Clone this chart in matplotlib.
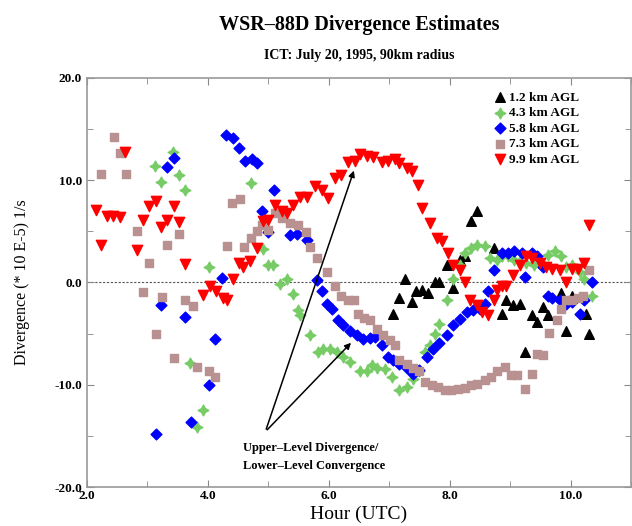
import numpy as np
import matplotlib
matplotlib.use("Agg")
import matplotlib.pyplot as plt

plt.rcParams['font.family'] = ['Liberation Serif', 'DejaVu Serif']
plt.rcParams['font.weight'] = 'bold'

# 1.2 km AGL
h12 = [7.06, 7.17, 7.26, 7.37, 7.45, 7.54, 7.64, 7.75, 7.83, 7.95, 8.05, 8.17, 8.25, 8.36, 8.45,
       8.74, 8.86, 8.94, 9.04, 9.16, 9.24, 9.36, 9.44, 9.54, 9.62, 9.85, 9.93, 10.02, 10.26, 10.31]
d12 = [-3.1, -1.5, 0.3, -1.9, -0.8, -0.7, -1.0, 0.0, 0.0, 1.7, -0.5, 2.2, 2.6, 6.0, 7.0,
       3.4, -3.1, -1.7, -2.2, -2.1, -6.8, -3.2, -3.9, -2.4, -3.2, -1.0, -4.7, -1.3, -3.1, -5.0]

# 4.3 km AGL
h43 = [3.12, 3.22, 3.42, 3.52, 3.62, 3.70, 3.82, 3.92, 4.02, 4.71, 4.91, 4.99, 5.07, 5.19, 5.31,
       5.40, 5.49, 5.52, 5.69, 5.82, 5.90, 6.02, 6.13, 6.23, 6.35, 6.51, 6.63, 6.71, 6.79, 6.93,
       7.04, 7.17, 7.29, 7.39, 7.50, 7.59, 7.67, 7.75, 7.83, 7.95, 8.05, 8.17, 8.25, 8.36, 8.46,
       8.58, 8.66, 8.78, 8.86, 8.96, 9.07, 9.16, 9.27, 9.40, 9.52, 9.62, 9.74, 9.85, 9.93, 10.03,
       10.15, 10.23, 10.35]
d43 = [11.4, 9.8, 12.8, 10.5, 9.0, -7.9, -14.1, -12.5, 1.5, 9.7, 3.3, 1.7, 1.7, -0.1, 0.3,
       -1.1, -2.7, -3.2, -5.1, -6.8, -6.5, -6.5, -6.8, -7.3, -7.8, -8.7, -8.7, -8.1, -8.4, -8.5,
       -9.2, -10.5, -10.2, -9.4, -8.7, -6.8, -6.1, -5.0, -4.1, -1.7, 0.3, 1.7, 2.9, 3.4, 3.7,
       3.6, 2.4, 2.2, 2.6, 2.6, 2.2, 2.1, 1.9, 1.7, 1.9, 2.7, 3.1, 2.6, 1.5, 1.7,
       1.0, 0.3, -1.3]

# 5.8 km AGL
h58 = [3.14, 3.22, 3.32, 3.44, 3.62, 3.72, 4.02, 4.12, 4.23, 4.30, 4.41, 4.51, 4.61, 4.73, 4.81,
       4.89, 4.99, 5.09, 5.36, 5.47, 5.64, 5.80, 5.88, 5.97, 6.05, 6.15, 6.23, 6.35, 6.46, 6.56,
       6.68, 6.76, 6.88, 6.98, 7.06, 7.17, 7.29, 7.39, 7.50, 7.62, 7.72, 7.83, 7.95, 8.05, 8.17,
       8.28, 8.38, 8.50, 8.58, 8.63, 8.74, 8.86, 8.96, 9.07, 9.19, 9.24, 9.36, 9.45, 9.54, 9.62,
       9.70, 9.82, 9.93, 10.03, 10.15, 10.23, 10.35]
d58 = [-14.8, -2.2, 11.3, 12.2, -3.4, -13.6, -10.0, -5.5, 0.4, 14.4, 14.1, 13.2, 11.9, 12.1, 11.7,
       7.0, 4.9, 9.0, 4.6, 4.7, 4.2, 0.2, -0.8, -2.1, -2.6, -3.7, -4.2, -4.7, -5.1, -5.5,
       -5.4, -5.3, -6.1, -7.3, -7.6, -8.0, -8.4, -8.9, -8.6, -7.3, -6.5, -5.9, -5.1, -4.2, -3.6,
       -2.9, -2.7, -2.6, -2.1, -0.8, 1.2, 2.9, 2.9, 3.1, 2.9, 0.5, 2.9, 2.6, 1.5, -1.3,
       -1.5, -1.7, -2.1, -1.9, -3.1, -1.7, 0.0]

# 7.3 km AGL
h73 = [2.23, 2.45, 2.55, 2.64, 2.83, 2.93, 3.02, 3.14, 3.24, 3.32, 3.44, 3.52, 3.62, 3.75, 3.82,
       4.02, 4.12, 4.31, 4.40, 4.53, 4.60, 4.71, 4.81, 4.89, 4.99, 5.11, 5.22, 5.36, 5.49, 5.62,
       5.69, 5.80, 5.97, 6.10, 6.21, 6.31, 6.41, 6.48, 6.58, 6.68, 6.79, 6.89, 7.01, 7.09, 7.17,
       7.29, 7.39, 7.50, 7.59, 7.70, 7.80, 7.92, 8.03, 8.13, 8.25, 8.36, 8.46, 8.58, 8.69, 8.79,
       8.91, 9.02, 9.12, 9.24, 9.36, 9.44, 9.54, 9.65, 9.77, 9.85, 9.92, 10.02, 10.12, 10.20, 10.31]
d73 = [10.6, 14.2, 12.7, 10.6, 5.0, -0.9, 1.9, -5.0, -1.4, 3.7, -7.4, 4.7, -1.7, -2.3, -8.3,
       -8.7, -9.2, 3.6, 7.8, 8.2, 3.5, 4.4, 5.0, 5.6, 5.1, 6.8, 6.3, 5.8, 5.6, 4.9,
       3.5, 2.4, 1.0, -0.3, -1.3, -1.7, -1.7, -3.1, -3.5, -3.7, -4.5, -5.1, -5.6, -6.1, -7.6,
       -8.0, -8.4, -8.7, -9.7, -10.0, -10.2, -10.5, -10.5, -10.4, -10.3, -10.0, -9.9, -9.5, -9.2, -8.7,
       -8.3, -9.0, -9.0, -10.4, -8.9, -7.0, -7.1, -4.9, -3.7, -2.6, -1.7, -1.7, -1.5, -1.3, 1.2]

# 9.9 km AGL
h99 = [2.15, 2.23, 2.33, 2.43, 2.55, 2.63, 2.83, 2.93, 3.02, 3.14, 3.22, 3.32, 3.44, 3.52, 3.62,
       3.92, 4.03, 4.13, 4.25, 4.31, 4.41, 4.51, 4.58, 4.69, 4.81, 4.91, 4.99, 5.11, 5.22, 5.31,
       5.40, 5.52, 5.64, 5.77, 5.88, 5.98, 6.10, 6.21, 6.31, 6.43, 6.51, 6.63, 6.73, 6.88, 6.98,
       7.09, 7.17, 7.29, 7.37, 7.47, 7.55, 7.67, 7.79, 7.87, 7.97, 8.05, 8.17, 8.26, 8.33, 8.45,
       8.53, 8.63, 8.74, 8.78, 8.86, 8.94, 9.04, 9.16, 9.27, 9.37, 9.49, 9.60, 9.70, 9.82, 9.93,
       10.02, 10.12, 10.23, 10.31]
d99 = [7.1, 3.7, 6.5, 6.5, 6.4, 12.8, 3.2, 6.1, 7.5, 8.0, 5.4, 6.1, 7.5, 5.9, 1.8,
       -1.2, -0.3, -0.8, -1.5, -1.7, 0.3, 1.9, 1.5, 2.1, 3.4, 6.0, 6.1, 7.6, 7.0, 6.8,
       7.6, 8.4, 8.4, 9.4, 9.0, 8.3, 10.2, 10.5, 11.8, 11.9, 12.6, 12.4, 12.3, 11.8, 11.9,
       12.1, 11.7, 11.2, 10.9, 9.5, 7.3, 5.8, 4.4, 4.1, 2.9, 1.7, 1.2, 0.0, -1.7, -2.2,
       -2.9, -3.2, -1.7, -0.7, -0.3, -0.3, 0.7, 1.7, 2.6, 2.4, 1.9, 1.5, 1.3, 1.2, 0.0,
       1.3, 1.3, 1.9, 5.6]

fig = plt.figure(figsize=(6.32, 5.26), dpi=100)
ax = fig.add_axes([87/632, 1 - 487/526, 544/632, 409/526])

ax.axhline(0, color='#555555', lw=0.8, ls=(0, (2, 1.5)), zorder=1)

ax.scatter(h12, d12, marker='^', s=48, c='black', label='1.2 km AGL', zorder=3)
ax.scatter(h43, d43, marker=(4, 1, 0), s=60, c='#77cc66', label='4.3 km AGL', zorder=3)
ax.scatter(h58, d58, marker='D', s=30, c='#0000ff', label='5.8 km AGL', zorder=3)
ax.scatter(h73, d73, marker='s', s=40, c='#b99190', label='7.3 km AGL', zorder=3)
ax.scatter(h99, d99, marker='v', s=55, c='#ff0000', label='9.9 km AGL', zorder=3)

# annotation
ax.annotate('', xy=(6.43, 11.2), xytext=(4.95, -14.6),
            arrowprops=dict(arrowstyle='-|>', color='black', lw=1.1, mutation_scale=9))
ax.annotate('', xy=(6.40, -5.7), xytext=(4.95, -14.6),
            arrowprops=dict(arrowstyle='-|>', color='black', lw=1.1, mutation_scale=9))
ax.text(4.58, -15.6, 'Upper\u2013Level Divergence/\nLower\u2013Level Convergence',
        fontsize=9, va='top', ha='left', linespacing=1.7)

ax.set_xlim(2, 11)
ax.set_ylim(-20, 20)
ax.set_xticks([2, 4, 6, 8, 10])
ax.set_xticks([3, 5, 7, 9, 11], minor=True)
ax.set_yticks([-20, -10, 0, 10, 20])
ax.set_yticks([-15, -5, 5, 15], minor=True)
ax.xaxis.set_major_formatter(plt.FormatStrFormatter('%.1f'))
ax.yaxis.set_major_formatter(plt.FormatStrFormatter('%.1f'))
ax.tick_params(which='both', direction='in', top=True, right=True, color='#888888',
               labelsize=9.5)
ax.tick_params(axis='x', which='major', pad=2)
ax.tick_params(which='major', length=5)
ax.tick_params(which='minor', length=4)
for s in ax.spines.values():
    s.set_color('#999999')
    s.set_linewidth(1.2)

ax.set_xlabel('Hour (UTC)', fontsize=14)
ax.xaxis.set_label_coords(0.5, -0.045)
ax.set_ylabel('Divergence (* 10 E-5) 1/s', fontsize=11.5)
ax.yaxis.set_label_coords(-0.105, 0.5)

fig.text(359/632, 1 - 25/526, 'WSR\u201388D Divergence Estimates', ha='center', va='center',
         fontsize=14.5)
fig.text(359/632, 1 - 55/526, 'ICT: July 20, 1995, 90km radius', ha='center', va='center',
         fontsize=10)

ax.legend(loc='upper left', bbox_to_anchor=((487 - 87) / 544, 1 - (86 - 78) / 409),
          frameon=False, fontsize=9.5, handletextpad=0.1, labelspacing=0.25,
          borderaxespad=0, handlelength=1.2)

fig.savefig('out.png', dpi=100)
